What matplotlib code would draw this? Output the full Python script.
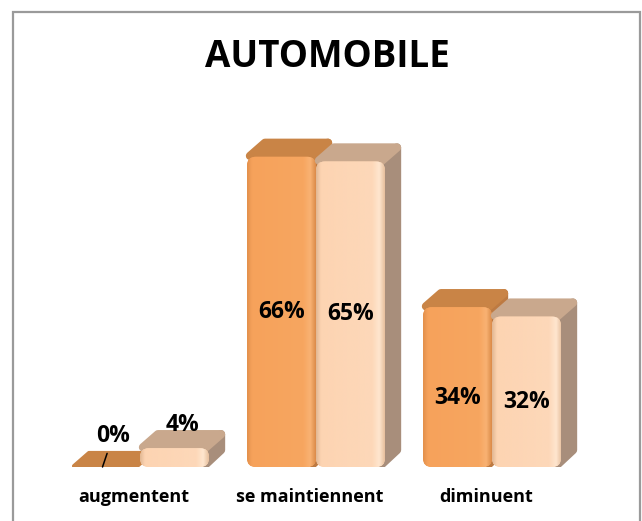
import matplotlib
matplotlib.use("Agg")
import matplotlib.pyplot as plt
import numpy as np
from matplotlib.patches import FancyBboxPatch, Polygon, Rectangle
from matplotlib.colors import LinearSegmentedColormap
import matplotlib.transforms as mtransforms

# ---- data ----
categories = ["augmentent", "se maintiennent", "diminuent"]
series_a = [0, 66, 34]   # orange series
series_b = [4, 65, 32]   # light series
title_text = "AUTOMOBILE"

# ---- layout / style ----
W, H = 642, 521
FONT = "Open Sans"
fig = plt.figure(figsize=(W / 100, H / 100), dpi=100)
fig.patch.set_facecolor("white")

ax_left_px, ax_right_px = 12, 640
ax_top_px, ax_base_px = 100, 467
ax = fig.add_axes([ax_left_px / W, 1 - ax_base_px / H,
                   (ax_right_px - ax_left_px) / W, (ax_base_px - ax_top_px) / H])
px_y = 4.7      # pixels per percent
px_x = 176.0    # pixels per category
first_px = 140
xlim = (-(first_px - ax_left_px) / px_x, (ax_right_px - first_px) / px_x)
ylim = (0, (ax_base_px - ax_top_px) / px_y)
ax.axis("off")

bw = 69 / px_x
dx = 15 / px_x
dy = 17 / px_y

styles = {
    "a": dict(front=["#E3904C", "#F6A25B", "#F7A660", "#F9B273", "#DC8C4A"],
              top="#C98446", side="#BD7A42"),
    "b": dict(front=["#E2B894", "#FDD4B2", "#FDD8B9", "#FFE6CF", "#E7C09E"],
              top="#C9A88D", side="#A88E7B"),
}
stops = [0.0, 0.07, 0.82, 0.92, 1.0]

x = np.arange(len(categories))
bars_a = ax.bar(x - bw / 2, series_a, bw, alpha=0)
bars_b = ax.bar(x + bw / 2, series_b, bw, alpha=0)


def draw_bar(rect, st, z):
    x0 = rect.get_x()
    w = rect.get_width()
    x1 = x0 + w
    h = rect.get_height()
    ix = 3 / px_x
    iy = 3 / px_y
    if h > 0:
        side = Polygon([(x1 - ix, iy), (x1 + dx - ix, dy), (x1 + dx - ix, h + dy - iy),
                        (x1 - ix, h - iy)],
                       closed=True, facecolor=st["side"], edgecolor=st["side"],
                       lw=6, joinstyle="round", zorder=z)
        ax.add_patch(side)
    top = Polygon([(x0 + ix, h + iy * 0.3), (x1 - ix, h + iy * 0.3),
                   (x1 + dx - ix, h + dy - iy), (x0 + dx + ix, h + dy - iy)],
                  closed=True, facecolor=st["top"], edgecolor=st["top"],
                  lw=6 if h > 0 else 3, joinstyle="round", zorder=z + 0.1)
    ax.add_patch(top)
    if h > 0:
        r = 0.05
        front = FancyBboxPatch((x0, 0), w, h,
                               boxstyle=f"round,pad=0,rounding_size={r}",
                               mutation_aspect=px_x / px_y,
                               facecolor=st["front"][1], edgecolor="none",
                               zorder=z + 0.2)
        ax.add_patch(front)
        cmap = LinearSegmentedColormap.from_list(
            "g", list(zip(stops, st["front"])))
        grad = np.linspace(0, 1, 200).reshape(1, -1)
        im = ax.imshow(grad, cmap=cmap, extent=(x0, x1, 0, h), aspect="auto",
                       zorder=z + 0.3, interpolation="bilinear")
        im.set_clip_path(front)


for i in range(len(categories)):
    draw_bar(bars_a[i], styles["a"], 2 + i)
    draw_bar(bars_b[i], styles["b"], 2.5 + i)

ax.set_xlim(*xlim)
ax.set_ylim(*ylim)

# ---- value labels ----
label_frac = [None, 0.5, 0.43]
lab_kw = dict(fontsize=16.5, fontweight="bold", family=FONT, color="black",
              ha="center", va="center", zorder=20)
for i in range(len(categories)):
    for bars, vals in ((bars_a, series_a), (bars_b, series_b)):
        r = bars[i]
        cx = r.get_x() + r.get_width() / 2
        v = vals[i]
        if label_frac[i] is not None:
            ax.text(cx, v * label_frac[i], f"{v}%", **lab_kw)
# small values: label above the bar
ra = bars_a[0]
cxa = ra.get_x() + ra.get_width() / 2
ax.annotate(f"{series_a[0]}%",
            xy=(cxa - 3 / px_x, series_a[0]),
            xytext=(cxa + dx / 2, series_a[0] + 31 / px_y),
            arrowprops=dict(arrowstyle="-", color="black", lw=1.1,
                            shrinkA=2, shrinkB=0),
            **lab_kw)
rb = bars_b[0]
ax.text(rb.get_x() + rb.get_width() / 2 + dx / 2, 42 / px_y,
        f"{series_b[0]}%", **lab_kw)

# ---- category labels ----
cat_off = mtransforms.offset_copy(ax.transData, fig=fig, x=-6 / 100 * 72,
                                  y=-30 / 100 * 72, units="points")
for i, c in enumerate(categories):
    ax.text(x[i], 0, c, transform=cat_off, ha="center", va="center",
            fontsize=13, fontweight="bold", family=FONT, color="black")

# ---- title ----
fig.text(327 / W, 1 - 57 / H, title_text, ha="center", va="center",
         fontsize=26.5, fontweight="bold", family=FONT, color="black")

# ---- border ----
fig.add_artist(Rectangle((12.5 / W, -0.05), (639.5 - 12.5) / W,
                         1.05 - 11.5 / H, transform=fig.transFigure,
                         facecolor="none", edgecolor="#9A9A9A", lw=1.6))

fig.savefig("out.png", dpi=100, facecolor="white")
